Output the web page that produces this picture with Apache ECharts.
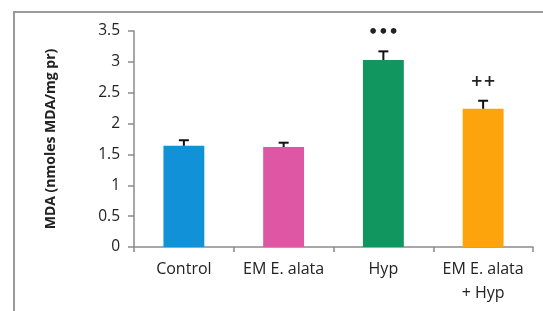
<!DOCTYPE html>
<html>
<head>
<meta charset="utf-8">
<script src="https://cdn.jsdelivr.net/npm/echarts@6/dist/echarts.min.js"></script>
<style>
  html, body { margin: 0; padding: 0; background: #fff; }
  #chart { width: 543px; height: 311px; }
</style>
</head>
<body>
<div id="chart"></div>
<script>
// data
const groups = ["Control", "EM E. alata", "Hyp", "EM E. alata\n+ Hyp"];
const mda = [1.64, 1.62, 3.03, 2.24];
const sem = [0.09, 0.07, 0.14, 0.13];
const marks = ["", "", "•••", "++"];
const barColors = ["#1191d8", "#de57a4", "#11965f", "#fda40c"];
const yTicks = [0, 0.5, 1, 1.5, 2, 2.5, 3, 3.5];

const chart = echarts.init(document.getElementById("chart"));

const option = {
  animation: false,
  backgroundColor: "#fff",
  grid: { left: 134, right: 10, top: 31, bottom: 64 },
  xAxis: {
    type: "category",
    data: groups,
    axisLine: { lineStyle: { color: "#8a8a8a", width: 1.5 } },
    axisTick: { show: true, length: 5, lineStyle: { color: "#8a8a8a", width: 1.5 } },
    axisLabel: {
      color: "#222",
      fontSize: 16,
      fontFamily: "Open Sans",
      margin: 10,
      lineHeight: 24,
      interval: 0
    }
  },
  yAxis: {
    type: "value",
    min: 0,
    max: 3.5,
    interval: 0.5,
    name: "MDA (nmoles MDA/mg pr)",
    nameLocation: "middle",
    nameGap: 76,
    nameTextStyle: { fontSize: 14, fontWeight: "bold", color: "#222", fontFamily: "Open Sans" },
    splitLine: { show: false },
    axisLine: { show: true, lineStyle: { color: "#8a8a8a", width: 1.5 } },
    axisTick: { show: true, length: 6, lineStyle: { color: "#8a8a8a", width: 1.5 } },
    axisLabel: {
      color: "#222",
      fontSize: 15.5,
      fontFamily: "Open Sans",
      margin: 14,
      formatter: v => (yTicks.indexOf(v) >= 0 ? String(v) : "")
    }
  },
  series: [
    {
      type: "bar",
      barWidth: "41%",
      data: mda.map((v, i) => ({ value: v, itemStyle: { color: barColors[i] } })),
      z: 2
    },
    {
      // error bars
      type: "custom",
      z: 3,
      data: mda.map((v, i) => [i, v, v + sem[i]]),
      renderItem: function (params, api) {
        const low = api.coord([api.value(0), api.value(1)]);
        const high = api.coord([api.value(0), api.value(2)]);
        const half = 5;
        const style = { stroke: "#111", lineWidth: 2 };
        return {
          type: "group",
          children: [
            { type: "line", shape: { x1: high[0], y1: high[1], x2: low[0], y2: low[1] }, style: style },
            { type: "line", shape: { x1: high[0] - half, y1: high[1], x2: high[0] + half, y2: high[1] }, style: style }
          ]
        };
      }
    },
    {
      // significance marks
      type: "custom",
      z: 4,
      data: mda.map((v, i) => [i, v + sem[i], marks[i]]),
      renderItem: function (params, api) {
        const p = api.coord([api.value(0), api.value(1)]);
        const txt = marks[params.dataIndex];
        const big = txt.indexOf("•") >= 0;
        return {
          type: "text",
          style: {
            x: p[0],
            y: p[1] - 19,
            text: txt,
            fill: "#222",
            font: big ? "bold 16px DejaVu Sans" : "bold 15px DejaVu Sans",
            textAlign: "center",
            textVerticalAlign: "middle"
          }
        };
      }
    }
  ],
  graphic: [
    {
      type: "polyline",
      shape: { points: [[14, 311], [14, 12], [543, 12]] },
      style: { stroke: "#9a9a9a", lineWidth: 2, fill: null }
    }
  ]
};

chart.setOption(option);
</script>
</body>
</html>
